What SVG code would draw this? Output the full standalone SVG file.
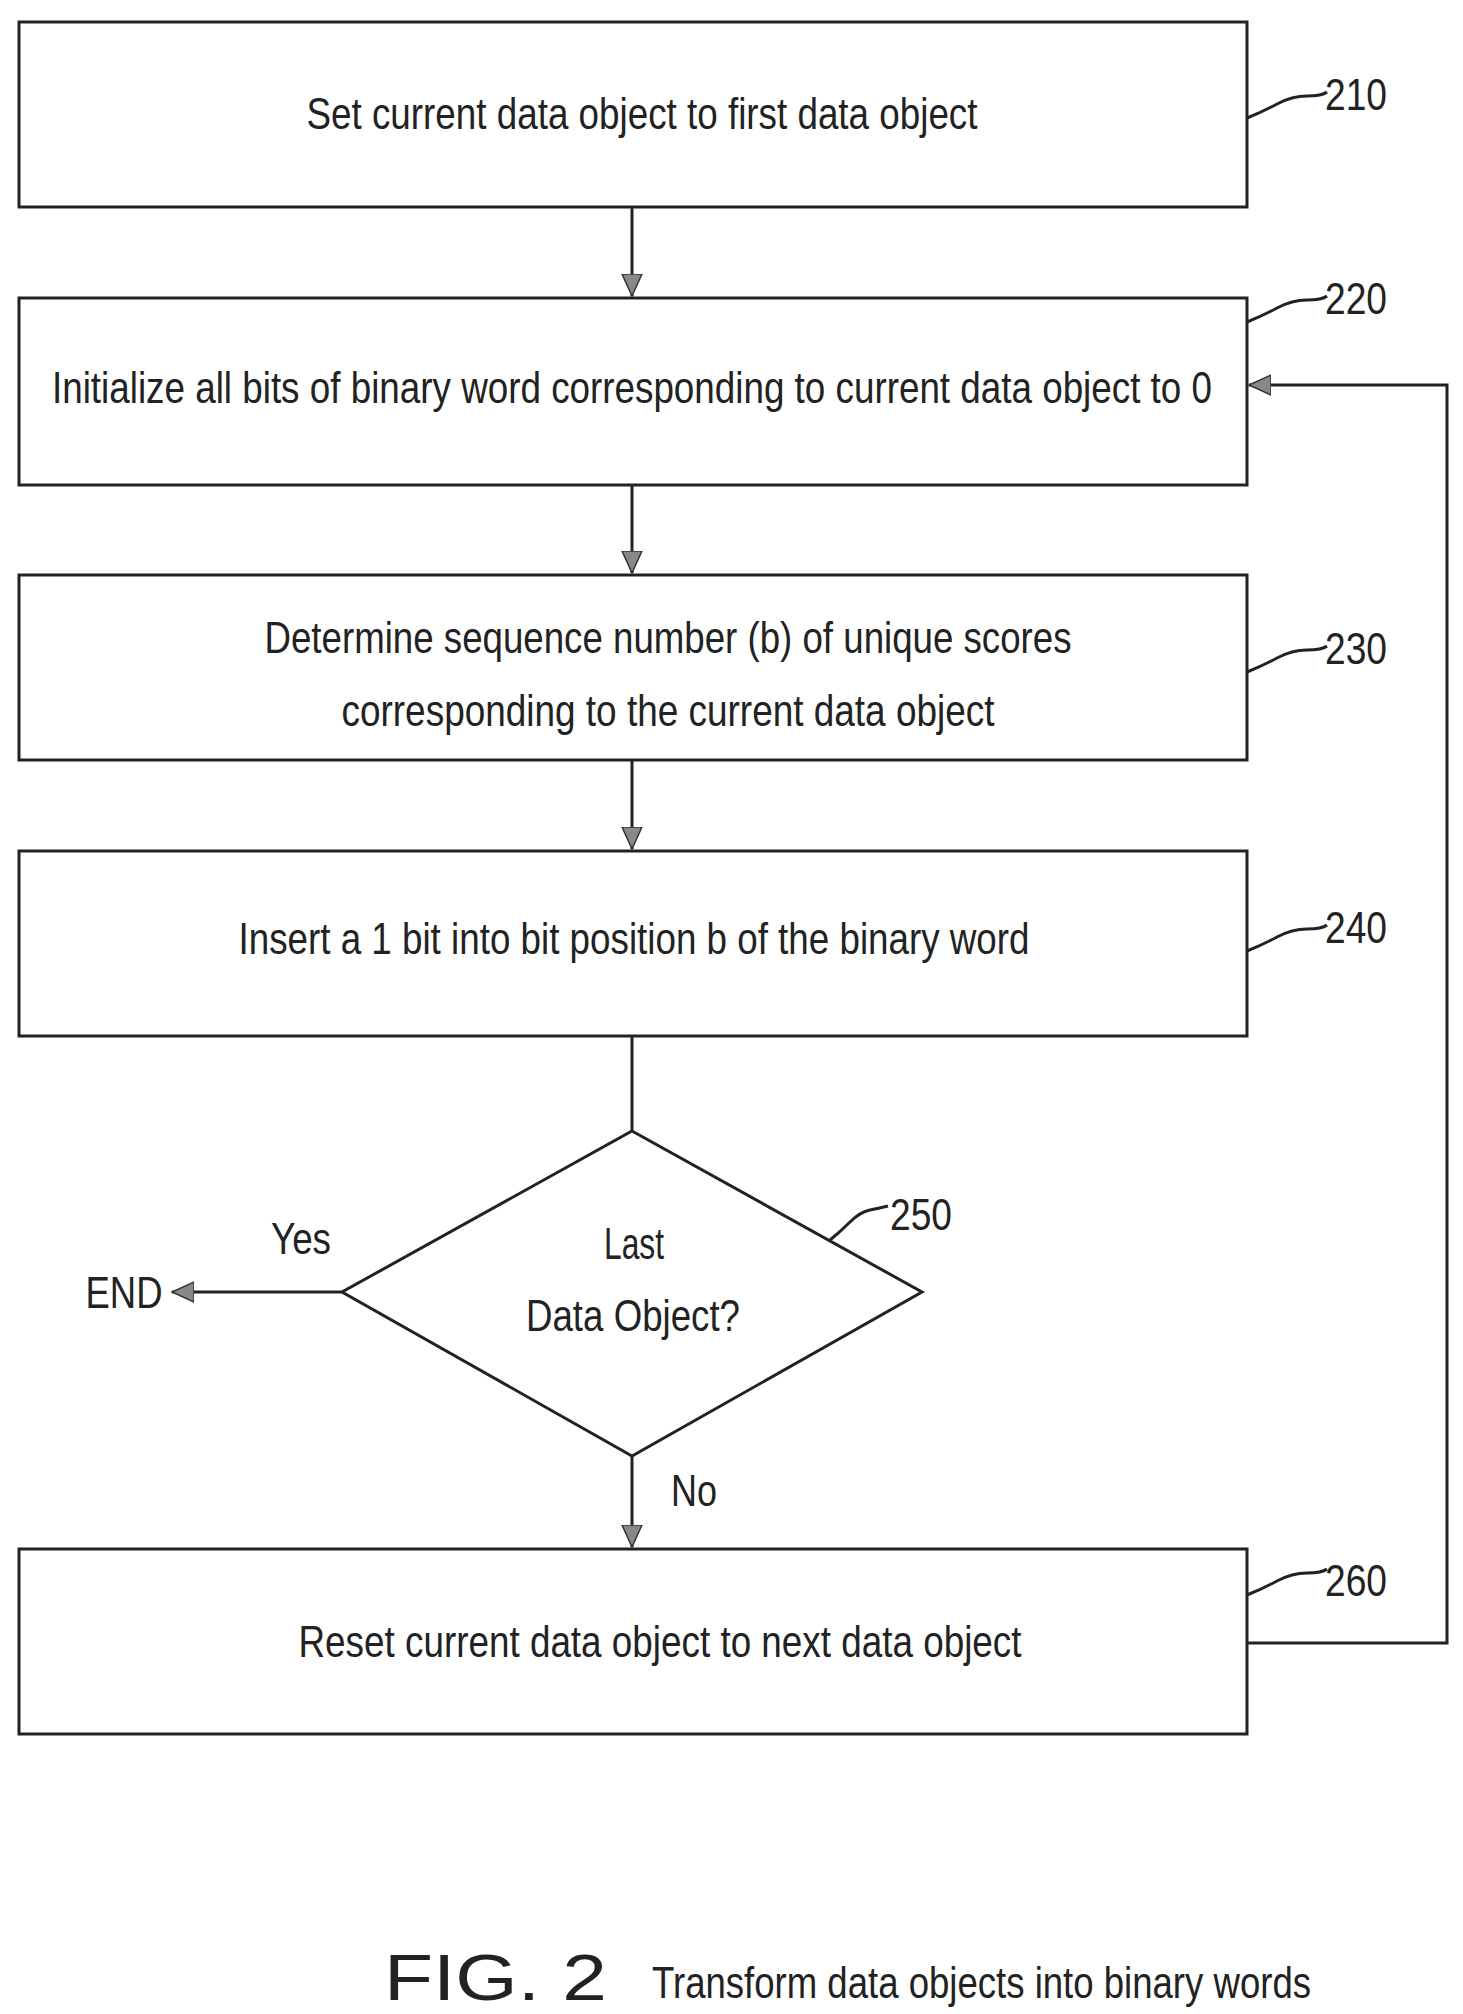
<svg xmlns="http://www.w3.org/2000/svg" width="1463" height="2014" viewBox="0 0 1463 2014">
<style>
.b{fill:#fff;stroke:#222;stroke-width:3}
.t{font-family:"Liberation Sans",Arial,sans-serif;font-size:44px;fill:#222;text-anchor:middle}
.l{font-family:"Liberation Sans",Arial,sans-serif;font-size:44px;fill:#222}
.c{fill:none;stroke:#222;stroke-width:3}
</style>
<defs>
<marker id="a" markerWidth="24" markerHeight="24" refX="22" refY="12" orient="auto" markerUnits="userSpaceOnUse">
<path d="M0,2 L22,12 L0,22 Z" fill="#888" stroke="#333" stroke-width="1.5"/>
</marker>
</defs>
<rect width="1463" height="2014" fill="#fff"/>
<g id="connectors">
<path class="c" d="M632,207 V296" marker-end="url(#a)"/>
<path class="c" d="M632,485 V573" marker-end="url(#a)"/>
<path class="c" d="M632,760 V849" marker-end="url(#a)"/>
<path class="c" d="M632,1036 V1131"/>
<path class="c" d="M632,1456 V1547" marker-end="url(#a)"/>
<path class="c" d="M342,1292 H172" marker-end="url(#a)"/>
<path class="c" d="M1247,1643 H1447 V385 H1249" marker-end="url(#a)"/>
<text class="l" x="301" y="1254" text-anchor="middle" textLength="60" lengthAdjust="spacingAndGlyphs">Yes</text>
<text class="l" x="124" y="1308" text-anchor="middle" textLength="77" lengthAdjust="spacingAndGlyphs">END</text>
<text class="l" x="694" y="1506" text-anchor="middle" textLength="46" lengthAdjust="spacingAndGlyphs">No</text>
</g>
<g id="n210">
<rect class="b" x="19" y="22" width="1228" height="185"/>
<text class="t" x="642" y="129" textLength="671" lengthAdjust="spacingAndGlyphs">Set current data object to first data object</text>
<path class="c" d="M1247,118 q15,-6 30,-14 t30,-8 t20,-4"/>
<text class="l" x="1325" y="110" textLength="62" lengthAdjust="spacingAndGlyphs">210</text>
</g>
<g id="n220">
<rect class="b" x="19" y="298" width="1228" height="187"/>
<text class="t" x="632" y="403" textLength="1160" lengthAdjust="spacingAndGlyphs">Initialize all bits of binary word corresponding to current data object to 0</text>
<path class="c" d="M1247,322 q15,-6 30,-14 t30,-8 t20,-4"/>
<text class="l" x="1325" y="314" textLength="62" lengthAdjust="spacingAndGlyphs">220</text>
</g>
<g id="n230">
<rect class="b" x="19" y="575" width="1228" height="185"/>
<text class="t" x="668" y="653" textLength="807" lengthAdjust="spacingAndGlyphs">Determine sequence number (b) of unique scores</text>
<text class="t" x="668" y="726" textLength="653" lengthAdjust="spacingAndGlyphs">corresponding to the current data object</text>
<path class="c" d="M1247,672 q15,-6 30,-14 t30,-8 t20,-4"/>
<text class="l" x="1325" y="664" textLength="62" lengthAdjust="spacingAndGlyphs">230</text>
</g>
<g id="n240">
<rect class="b" x="19" y="851" width="1228" height="185"/>
<text class="t" x="634" y="954" textLength="791" lengthAdjust="spacingAndGlyphs">Insert a 1 bit into bit position b of the binary word</text>
<path class="c" d="M1247,951 q15,-6 30,-14 t30,-8 t20,-4"/>
<text class="l" x="1325" y="943" textLength="62" lengthAdjust="spacingAndGlyphs">240</text>
</g>
<g id="n250">
<polygon class="b" points="632,1131 922,1292 632,1456 342,1292"/>
<text class="t" x="634" y="1259" textLength="60" lengthAdjust="spacingAndGlyphs">Last</text>
<text class="t" x="633" y="1331" textLength="214" lengthAdjust="spacingAndGlyphs">Data Object?</text>
<path class="c" d="M830,1240 q10,-8 20,-18 t20,-12 t18,-4"/>
<text class="l" x="890" y="1230" textLength="62" lengthAdjust="spacingAndGlyphs">250</text>
</g>
<g id="n260">
<rect class="b" x="19" y="1549" width="1228" height="185"/>
<text class="t" x="660" y="1657" textLength="723" lengthAdjust="spacingAndGlyphs">Reset current data object to next data object</text>
<path class="c" d="M1247,1595 q15,-6 30,-14 t30,-8 t20,-4"/>
<text class="l" x="1325" y="1596" textLength="62" lengthAdjust="spacingAndGlyphs">260</text>
</g>
<g id="caption">
<text x="384" y="2000" font-family="Liberation Sans,Arial,sans-serif" font-size="64" fill="#222" textLength="223" lengthAdjust="spacingAndGlyphs">FIG. 2</text>
<text x="652" y="1998" font-family="Liberation Sans,Arial,sans-serif" font-size="44" fill="#222" textLength="659" lengthAdjust="spacingAndGlyphs">Transform data objects into binary words</text>
</g>
</svg>
